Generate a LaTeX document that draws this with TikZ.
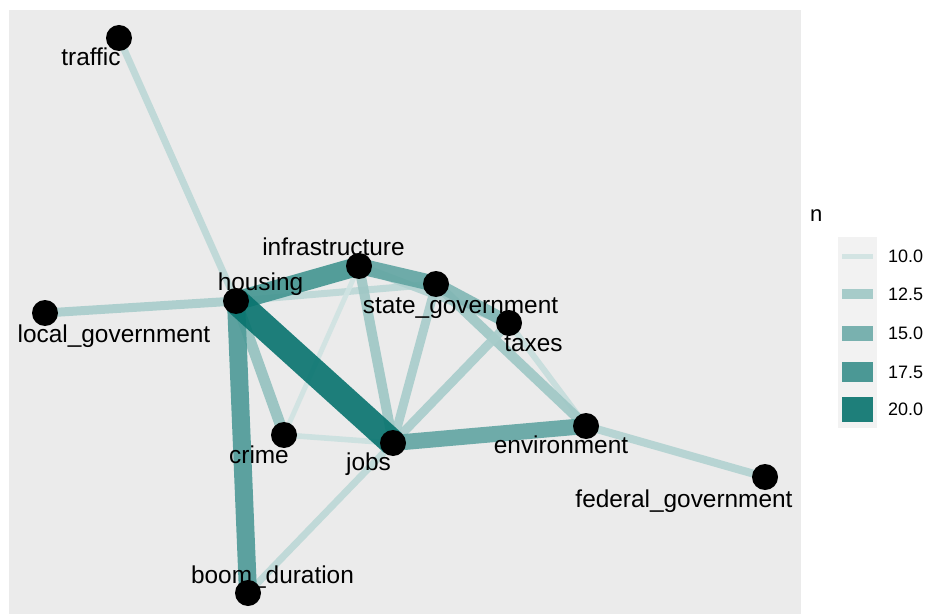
\documentclass[tikz,border=0pt]{standalone}
\usepackage{fontspec}
\setmainfont{Liberation Sans}
\definecolor{panelbg}{HTML}{EBEBEB}
\definecolor{keybg}{HTML}{F2F2F2}
\definecolor{edgehi}{HTML}{07736E}
\definecolor{edgelo}{HTML}{D0E3E2}
\pgfdeclarelayer{bglayer}
\pgfdeclarelayer{edgelayer}
\pgfsetlayers{bglayer,edgelayer,main}
\begin{document}
\begin{tikzpicture}[x=1bp,y=-1bp,
  vtx/.style={circle,fill=black,inner sep=0pt,minimum size=26bp},
  lbl/.style={anchor=base,inner sep=0pt,font=\fontsize{24.4bp}{28bp}\selectfont},
  legtxt/.style={anchor=west,inner sep=0pt,font=\fontsize{18bp}{22bp}\selectfont},
  en/.code={\pgfmathtruncatemacro\ep{min(100,(#1-10)*10)}\pgfmathsetmacro\ew{5+2*(#1-10)}\tikzset{line width=\ew bp,draw=edgehi!\ep!edgelo}},
  edge/.style={draw opacity=0.9,line cap=butt},
]
\useasboundingbox (0,0) rectangle (928,614);
\begin{pgfonlayer}{bglayer}
\fill[white] (0,0) rectangle (928,614);
\fill[panelbg] (9,10) rectangle (801,614);
\end{pgfonlayer}

% vertices
\node[vtx] (traffic) at (119,38) {};
\node[vtx] (infra) at (359,266) {};
\node[vtx] (housing) at (236,301) {};
\node[vtx] (stategov) at (436,284) {};
\node[vtx] (local) at (45,313) {};
\node[vtx] (taxes) at (509,323) {};
\node[vtx] (crime) at (284,435) {};
\node[vtx] (jobs) at (393,443) {};
\node[vtx] (env) at (586,426) {};
\node[vtx] (fed) at (765,477) {};
\node[vtx] (boom) at (248,593) {};

% edges
\begin{pgfonlayer}{edgelayer}
\draw[edge,en=11] (housing.center) -- (traffic.center);
\draw[edge,en=12] (housing.center) -- (local.center);
\draw[edge,en=11] (housing.center) -- (stategov.center);
\draw[edge,en=10] (infra.center) -- (crime.center);
\draw[edge,en=10.3] (crime.center) -- (jobs.center);
\draw[edge,en=11] (jobs.center) -- (boom.center);
\draw[edge,en=11.5] (env.center) -- (fed.center);
\draw[edge,en=10.5] (taxes.center) -- (env.center);
\draw[edge,en=11.5] (infra.center) -- (taxes.center);
\draw[edge,en=12.5] (stategov.center) -- (env.center);
\draw[edge,en=12] (taxes.center) -- (jobs.center);
\draw[edge,en=12] (stategov.center) -- (jobs.center);
\draw[edge,en=12.5] (infra.center) -- (jobs.center);
\draw[edge,en=14] (stategov.center) -- (taxes.center);
\draw[edge,en=15.5] (infra.center) -- (stategov.center);
\draw[edge,en=13] (housing.center) -- (crime.center);
\draw[edge,en=15.5] (jobs.center) -- (env.center);
\draw[edge,en=16.5] (housing.center) -- (boom.center);
\draw[edge,en=17] (housing.center) -- (infra.center);
\draw[edge,en=20.7] (housing.center) -- (jobs.center);
\end{pgfonlayer}

% labels
\node[lbl] (traffic-l) at (91,66) {traffic};
\node[lbl] (infra-l) at (333.5,256) {infrastructure};
\node[lbl] (housing-l) at (260.5,290) {housing};
\node[lbl] (stategov-l) at (460.5,313) {state\_government};
\node[lbl] (taxes-l) at (533.5,351) {taxes};
\node[lbl] (crime-l) at (259,463) {crime};
\node[lbl] (jobs-l) at (368.5,470) {jobs};
\node[lbl] (local-l) at (114,342) {local\_government};
\node[lbl] (env-l) at (561,453) {environment};
\node[lbl] (fed-l) at (684,507) {federal\_government};
\node[lbl] (boom-l) at (272.5,583) {boom\_duration};

% legend
\node[anchor=base west,inner sep=0pt,font=\fontsize{22bp}{26bp}\selectfont] (legtitle) at (810,222) {n};
\fill[keybg] (838,237) rectangle (877,428);
\draw[edge,en=10] (842,256) -- (873,256);
\draw[edge,en=12.5] (842,294) -- (873,294);
\draw[edge,en=15] (842,333) -- (873,333);
\draw[edge,en=17.5] (842,372) -- (873,372);
\draw[edge,en=20] (842,409) -- (873,409);
\node[legtxt] (k1) at (888,256) {10.0};
\node[legtxt] (k2) at (888,294) {12.5};
\node[legtxt] (k3) at (888,333) {15.0};
\node[legtxt] (k4) at (888,372) {17.5};
\node[legtxt] (k5) at (888,409) {20.0};
\end{tikzpicture}
\end{document}
